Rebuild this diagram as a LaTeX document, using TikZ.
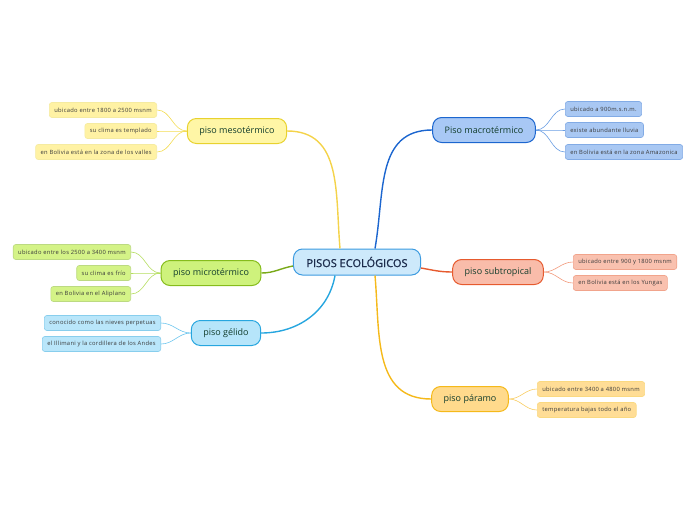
\documentclass[tikz,border=0pt]{standalone}
\usepackage{fontspec}
\setmainfont{Open Sans}
\newfontfamily\leaffont[LetterSpace=5]{Open Sans}
\newfontfamily\rootfont[FakeBold=1.2]{Open Sans}
\usetikzlibrary{calc}

\definecolor{rootfill}{HTML}{CDE9FB}
\definecolor{rootdraw}{HTML}{3C9BE0}
\definecolor{roottext}{HTML}{1B2B4B}
\definecolor{brtext}{HTML}{123D2C}
\definecolor{leaftext}{HTML}{3A3A3A}
% piso mesotermico
\definecolor{mesofill}{HTML}{FFF6A6}
\definecolor{mesodraw}{HTML}{E8D22E}
\definecolor{mesoleaf}{HTML}{FFF2A4}
\definecolor{mesoline}{HTML}{F3DC52}
% piso microtermico
\definecolor{microfill}{HTML}{CEF27C}
\definecolor{microdraw}{HTML}{86BC1C}
\definecolor{microleaf}{HTML}{D4F387}
\definecolor{microline}{HTML}{B4DD5E}
% piso gelido
\definecolor{gelifill}{HTML}{B6E5FA}
\definecolor{gelidraw}{HTML}{27A6DF}
\definecolor{gelileaf}{HTML}{B9E6FA}
\definecolor{geliline}{HTML}{6EC6EE}
% piso macrotermico
\definecolor{macrofill}{HTML}{A8C8F5}
\definecolor{macrodraw}{HTML}{1C66CF}
\definecolor{macroleaf}{HTML}{A9C8F3}
\definecolor{macroline}{HTML}{6A9EE3}
% piso subtropical
\definecolor{subtfill}{HTML}{F9BCAA}
\definecolor{subtdraw}{HTML}{E65A2E}
\definecolor{subtleaf}{HTML}{F9C1AF}
\definecolor{subtline}{HTML}{F29A7C}
% piso paramo
\definecolor{paramfill}{HTML}{FFDA8C}
\definecolor{paramdraw}{HTML}{F5B91A}
\definecolor{paramleaf}{HTML}{FFDD96}
\definecolor{paramline}{HTML}{F8CD62}

\begin{document}
\begin{tikzpicture}[
  x=1pt, y=1pt,
  rootbox/.style  = {rectangle, rounded corners=9pt,
                     draw=rootdraw, fill=rootfill, line width=1pt,
                     text=roottext, inner xsep=13pt,
                     minimum height=26pt,
                     font=\rootfont\fontsize{11}{13}\selectfont},
  brbox/.style 2 args = {rectangle, rounded corners=9pt,
                     draw=#2, fill=#1, line width=1pt,
                     text=brtext, inner xsep=12pt,
                     minimum height=25pt,
                     font=\fontsize{9}{11}\selectfont},
  leafbox/.style 2 args = {rectangle, rounded corners=2.5pt,
                     draw=#2, fill=#1, line width=0.6pt,
                     text=leaftext, inner xsep=5pt,
                     minimum height=15pt,
                     font=\leaffont\fontsize{5.8}{7}\selectfont},
  brline/.style   = {line width=1.4pt, draw=#1},
  leafline/.style = {line width=0.6pt, draw=#1},
]
\useasboundingbox (0,0) rectangle (696,-520);

%%═══════════════════════════════════════════════════════════
%% Centre
%%═══════════════════════════════════════════════════════════

\node[rootbox] (root) at (357,-262) {PISOS ECOLÓGICOS};

%%═══════════════════════════════════════════════════════════
%% Left side
%%═══════════════════════════════════════════════════════════

\node[brbox={mesofill}{mesodraw}] (meso) at (237,-131) {piso mesotérmico};
\node[leafbox={mesoleaf}{mesodraw!45}, anchor=east] (meso1) at (157,-110)
  {ubicado entre 1800 a 2500 msnm};
\node[leafbox={mesoleaf}{mesodraw!45}, anchor=east] (meso2) at (157,-131)
  {su clima es templado};
\node[leafbox={mesoleaf}{mesodraw!45}, anchor=east] (meso3) at (157,-152)
  {en Bolivia está en la zona de los valles};

\node[brbox={microfill}{microdraw}] (micro) at (211,-273) {piso microtérmico};
\node[leafbox={microleaf}{microdraw!55}, anchor=east] (micro1) at (131,-252)
  {ubicado entre los 2500 a 3400 msnm};
\node[leafbox={microleaf}{microdraw!55}, anchor=east] (micro2) at (131,-273)
  {su clima es frío};
\node[leafbox={microleaf}{microdraw!55}, anchor=east] (micro3) at (131,-294)
  {en Bolivia en el Aliplano};

\node[brbox={gelifill}{gelidraw}] (geli) at (226,-333) {piso gélido};
\node[leafbox={gelileaf}{gelidraw!55}, anchor=east] (geli1) at (161,-323)
  {conocido como las nieves perpetuas};
\node[leafbox={gelileaf}{gelidraw!55}, anchor=east] (geli2) at (161,-344)
  {el Illimani y la cordillera de los Andes};

%%═══════════════════════════════════════════════════════════
%% Right side
%%═══════════════════════════════════════════════════════════

\node[brbox={macrofill}{macrodraw}] (macro) at (484,-130) {Piso macrotérmico};
\node[leafbox={macroleaf}{macrodraw!55}, anchor=west] (macro1) at (565,-109)
  {ubicado a 900m.s.n.m.};
\node[leafbox={macroleaf}{macrodraw!55}, anchor=west] (macro2) at (565,-130)
  {existe abundante lluvia};
\node[leafbox={macroleaf}{macrodraw!55}, anchor=west] (macro3) at (565,-152)
  {en Bolivia está en la zona Amazonica};

\node[brbox={subtfill}{subtdraw}] (subt) at (498,-272) {piso subtropical};
\node[leafbox={subtleaf}{subtdraw!55}, anchor=west] (subt1) at (573,-262)
  {ubicado entre 900 y 1800 msnm};
\node[leafbox={subtleaf}{subtdraw!55}, anchor=west] (subt2) at (573,-283)
  {en Bolivia está en los Yungas};

\node[brbox={paramfill}{paramdraw}] (param) at (470,-399) {piso páramo};
\node[leafbox={paramleaf}{paramdraw!55}, anchor=west] (param1) at (537,-389)
  {ubicado  entre 3400 a 4800 msnm};
\node[leafbox={paramleaf}{paramdraw!55}, anchor=west] (param2) at (537,-410)
  {temperatura bajas todo el año};

%%═══════════════════════════════════════════════════════════
%% Connectors
%%═══════════════════════════════════════════════════════════

\draw[brline=mesoline!90!orange] ($(root.north)+(-17,0)$)
  to[out=95, in=0, looseness=1.1] (meso.east);
\draw[brline=macrodraw] ($(root.north)+(18,0)$)
  to[out=80, in=180, looseness=1.1] (macro.west);
\draw[brline=microdraw!90!black] ($(root.west)+(0,-4)$)
  to[out=190, in=0] (micro.east);
\draw[brline=gelidraw] ($(root.south)+(-22,0)$)
  to[out=-100, in=0] (geli.east);
\draw[brline=subtdraw] ($(root.east)+(0,-6)$)
  to[out=-10, in=180] (subt.west);
\draw[brline=paramdraw] ($(root.south)+(18,0)$)
  to[out=-85, in=180, looseness=1.1] (param.west);

\foreach \n in {1,2,3} {
  \draw[leafline=mesoline] (meso.west) to[out=180, in=0] (meso\n.east);
  \draw[leafline=microline] (micro.west) to[out=180, in=0] (micro\n.east);
  \draw[leafline=macroline] (macro.east) to[out=0, in=180] (macro\n.west);
}
\foreach \n in {1,2} {
  \draw[leafline=geliline] (geli.west) to[out=180, in=0] (geli\n.east);
  \draw[leafline=subtline] (subt.east) to[out=0, in=180] (subt\n.west);
  \draw[leafline=paramline] (param.east) to[out=0, in=180] (param\n.west);
}

\end{tikzpicture}
\end{document}
